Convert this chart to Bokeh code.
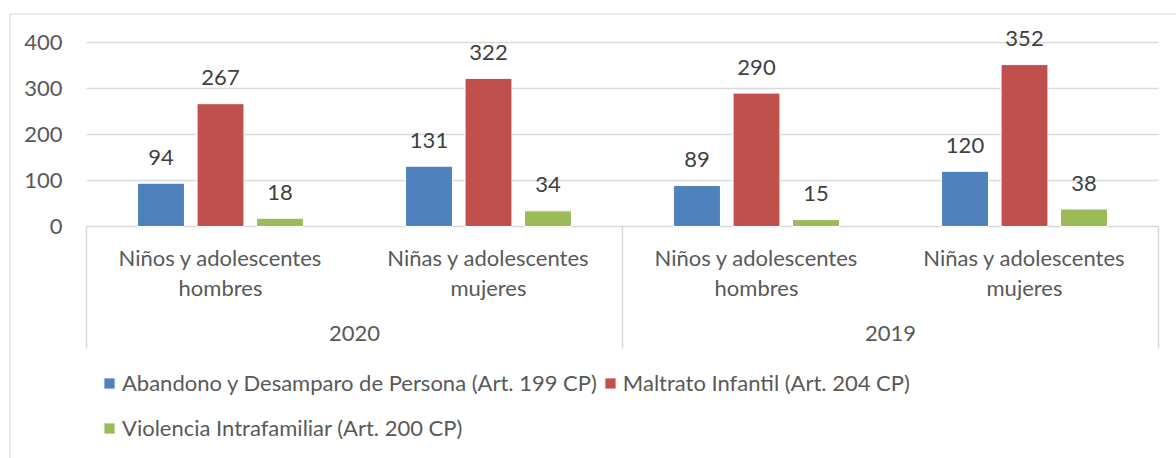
from bokeh.plotting import figure
from bokeh.models import (ColumnDataSource, Range1d, FixedTicker,
                          Legend, LegendItem)
from bokeh.core.properties import value
from bokeh.embed import file_html
from bokeh.resources import INLINE

# ---------------- data ----------------
years = ["2020", "2019"]
groups = ["Niños y adolescentes hombres", "Niñas y adolescentes mujeres"]
group_labels = ["Niños y adolescentes\nhombres", "Niñas y adolescentes\nmujeres"]
series = ["Abandono y Desamparo de Persona (Art. 199 CP)",
          "Maltrato Infantil (Art. 204 CP)",
          "Violencia Intrafamiliar (Art. 200 CP)"]
abandono = [94, 131, 89, 120]
maltrato = [267, 322, 290, 352]
violencia = [18, 34, 15, 38]
y_ticks = [0, 100, 200, 300, 400]

# ---------------- style ----------------
colors = ["#4F81BD", "#C0504D", "#9BBB59"]
FONT = "Lato"
FS = "22px"
AXIS_TXT = "#595959"
LBL_TXT = "#404040"
GRID = "#d9d9d9"
PX = 400 / 184.0          # y data units per screen pixel
UX = 1 / 268.0            # x data units per screen pixel (one category = 1)
offsets = [-0.222, 0.0, 0.222]
BAR_W = 0.175

# category positions (one unit per sub-category, grouped by year)
n_cat = len(years) * len(groups)
cat_x = [i + 0.5 for i in range(n_cat)]
cat_text = [group_labels[i % len(groups)] for i in range(n_cat)]
year_x = [j * len(groups) + len(groups) / 2 for j in range(len(years))]
sep_x = [j * len(groups) for j in range(len(years) + 1)]

x0, x1 = -77 * UX, n_cat + 18 * UX
y0, y1 = -232 * PX, 213 * PX

p = figure(width=1176, height=458,
           x_range=Range1d(x0, x1), y_range=Range1d(y0, y1),
           x_axis_location=None,
           output_backend="svg", toolbar_location=None,
           min_border_left=9, min_border_right=0,
           min_border_top=13, min_border_bottom=0)
p.outline_line_color = None
p.background_fill_color = "white"
p.xgrid.visible = False
p.ygrid.visible = False

ax = p.yaxis[0]
ax.fixed_location = 0
ax.ticker = FixedTicker(ticks=y_ticks)
ax.axis_line_color = None
ax.major_tick_line_color = None
ax.minor_tick_line_color = None
ax.major_tick_out = 0
ax.major_tick_in = 0
ax.major_label_standoff = 24
ax.major_label_text_font = FONT
ax.major_label_text_font_size = FS
ax.major_label_text_color = AXIS_TXT

# horizontal gridlines over the plot area
p.segment(x0=[0] * len(y_ticks), x1=[n_cat] * len(y_ticks),
          y0=y_ticks, y1=y_ticks, line_color=GRID, line_width=1.5)

src = ColumnDataSource(dict(
    x=cat_x,
    abandono=abandono, maltrato=maltrato, violencia=violencia,
))

renderers = []
for name, vals, off, color in zip(["abandono", "maltrato", "violencia"],
                                  [abandono, maltrato, violencia],
                                  offsets, colors):
    xs = [c + off for c in cat_x]
    r = p.vbar(x=xs, top=vals, bottom=0, width=BAR_W,
               fill_color=color, line_color="white", line_width=1)
    renderers.append(r)
    p.text(x=xs, y=[v + 26 * PX for v in vals], text=[str(v) for v in vals],
           text_font=value(FONT), text_font_size=FS,
           text_color=LBL_TXT, text_align="center", text_baseline="middle")

# category axis box (Excel style)
p.segment(x0=sep_x, x1=sep_x, y0=[0] * len(sep_x),
          y1=[-122 * PX] * len(sep_x), line_color=GRID, line_width=1.5)

# sub-category labels
p.text(x=cat_x, y=[-46 * PX] * n_cat, text=cat_text,
       text_font=value(FONT), text_font_size=FS, text_color=AXIS_TXT,
       text_align="center", text_baseline="middle", text_line_height=1.136)
# year labels
p.text(x=year_x, y=[-107 * PX] * len(years), text=years,
       text_font=value(FONT), text_font_size=FS, text_color=AXIS_TXT,
       text_align="center", text_baseline="middle")

# outer chart border (left and top edges)
p.segment(x0=[x0, x0], y0=[y0, y1], x1=[x0, x1], y1=[y1, y1],
          line_color=GRID, line_width=2)

# legends
def make_legend(items, loc):
    return Legend(items=items, orientation="horizontal", location=loc,
                  label_text_font=FONT, label_text_font_size=FS,
                  label_text_color=AXIS_TXT, glyph_width=14, glyph_height=14,
                  label_standoff=6, spacing=6, padding=0, margin=0,
                  label_height=26, border_line_color=None,
                  background_fill_alpha=0)

leg1 = make_legend([LegendItem(label=series[0], renderers=[renderers[0]]),
                    LegendItem(label=series[1], renderers=[renderers[1]])],
                   (93, 62))
leg2 = make_legend([LegendItem(label=series[2], renderers=[renderers[2]])],
                   (93, 17))
p.add_layout(leg1, "center")
p.add_layout(leg2, "center")

open("out.html", "w").write(file_html(p, INLINE))
